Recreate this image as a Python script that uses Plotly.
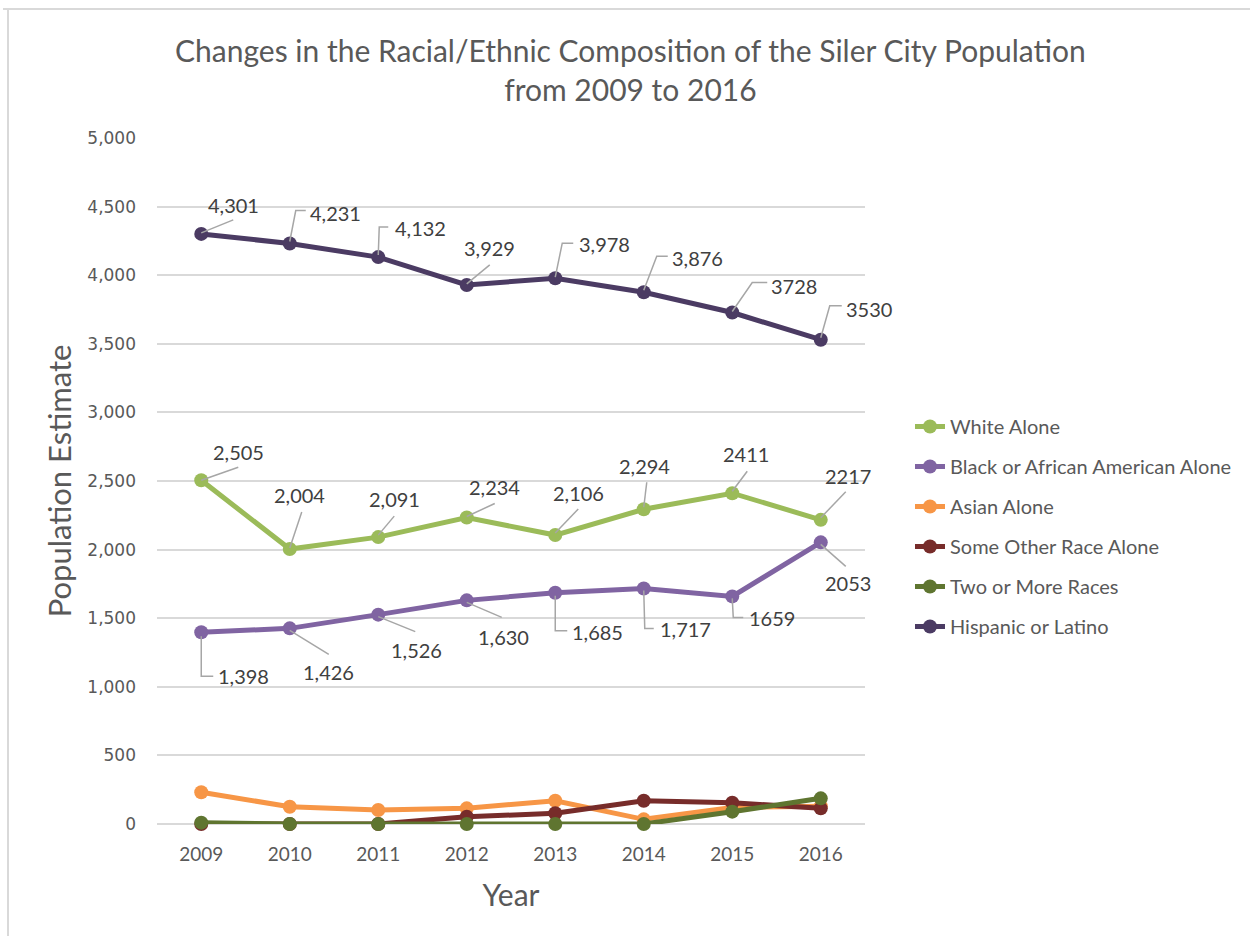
import plotly.graph_objects as go

# ---- data -------------------------------------------------------------
years = [2009, 2010, 2011, 2012, 2013, 2014, 2015, 2016]

white = [2505, 2004, 2091, 2234, 2106, 2294, 2411, 2217]
black = [1398, 1426, 1526, 1630, 1685, 1717, 1659, 2053]
asian = [231, 126, 102, 114, 170, 34, 120, 130]
other_race = [0, 0, 0, 53, 78, 170, 155, 114]
two_or_more = [10, 0, 0, 0, 0, 0, 90, 187]
hispanic = [4301, 4231, 4132, 3929, 3978, 3876, 3728, 3530]

series_names = [
    "White Alone",
    "Black or African American Alone",
    "Asian Alone",
    "Some Other Race Alone",
    "Two or More Races",
    "Hispanic or Latino",
]
series_values = [white, black, asian, other_race, two_or_more, hispanic]
series_colors = ["#9BBB59", "#8064A2", "#F79646", "#772C2A", "#5F7530", "#4B3B63"]

# years whose data labels carry a thousands separator
comma_years = [2009, 2010, 2011, 2012, 2013, 2014]

# label placement (screen px, +down) for the labelled series:
# text centre offset, then leader polyline points
label_layout = {
    "Hispanic or Latino": [
        ((32, -29), [(0, -1), (32, -14)]),
        ((46, -31), [(0, -2), (6, -33), (16, -33)]),
        ((42, -29), [(0, -2), (1, -30), (10, -30)]),
        ((23, -37), [(0, -1), (23, -20)]),
        ((49, -34), [(0, -1), (7, -35), (18, -35)]),
        ((54, -34), [(0, -2), (13, -36), (24, -36)]),
        ((62, -27), [(0, -1), (20, -30), (35, -30)]),
        ((48, -31), [(0, -2), (9, -34), (21, -34)]),
    ],
    "White Alone": [
        ((37, -28), [(0, 0), (37, -13)]),
        ((10, -54), [(0, -1), (12, -37)]),
        ((16, -38), [(0, -2), (16, -21)]),
        ((28, -31), [(0, -1), (28, -14)]),
        ((23, -42), [(0, -2), (23, -26)]),
        ((1, -43), [(0, -2), (3, -27)]),
        ((14, -39), [(0, -2), (15, -22)]),
        ((27, -44), [(0, -2), (25, -28)]),
    ],
    "Black or African American Alone": [
        ((42, 44), [(0, 4), (0, 44), (12, 44)]),
        ((39, 44), [(0, 2), (39, 26)]),
        ((38, 35), [(0, 2), (37, 17)]),
        ((37, 37), [(0, 2), (35, 17)]),
        ((42, 39), [(0, 3), (0, 38), (12, 38)]),
        ((42, 41), [(0, 2), (1, 40), (10, 40)]),
        ((40, 22), [(0, 2), (1, 21), (11, 21)]),
        ((27, 41), [(0, 2), (25, 24)]),
    ],
}

# ---- geometry ---------------------------------------------------------
W, H = 1250, 936
PL, PR, PT, PB = 157, 865, 138, 824  # plot area edges in px


def px_to_paper_x(px):
    return (px - PL) / (PR - PL)


def px_to_paper_y(py):
    return (PB - py) / (PB - PT)


FAMILY = "Lato, Open Sans, sans-serif"
LABEL_FONT = dict(family=FAMILY, size=20, color="#404040")

fig = go.Figure()

for name, vals, color in zip(series_names, series_values, series_colors):
    fig.add_trace(
        go.Scatter(
            x=years,
            y=vals,
            name=name,
            legendgroup=name,
            mode="lines+markers",
            line=dict(color=color, width=5),
            marker=dict(color=color, size=14),
            cliponaxis=False,
            hoverinfo="x+y+name",
        )
    )

annotations = []
shapes = []
for name, vals in zip(series_names, series_values):
    if name not in label_layout:
        continue
    for yr, v, (text_off, leader) in zip(years, vals, label_layout[name]):
        txt = f"{v:,}" if yr in comma_years else str(v)
        annotations.append(
            dict(
                x=yr, y=v, xref="x", yref="y",
                text=txt, showarrow=False,
                xshift=text_off[0], yshift=-text_off[1],
                font=LABEL_FONT,
            )
        )
        path = "M" + " L".join(f"{dx},{-dy}" for dx, dy in leader)
        shapes.append(
            dict(
                type="path", xref="x", yref="y",
                xsizemode="pixel", ysizemode="pixel",
                xanchor=yr, yanchor=v, path=path,
                line=dict(color="#A6A6A6", width=1.5),
                layer="above",
            )
        )

# frame lines along the top and left of the chart area
shapes.append(dict(type="line", xref="paper", yref="paper",
                   x0=px_to_paper_x(3), x1=px_to_paper_x(1252),
                   y0=px_to_paper_y(9), y1=px_to_paper_y(9),
                   line=dict(color="#D9D9D9", width=2)))
shapes.append(dict(type="line", xref="paper", yref="paper",
                   x0=px_to_paper_x(8), x1=px_to_paper_x(8),
                   y0=px_to_paper_y(9), y1=px_to_paper_y(940),
                   line=dict(color="#D9D9D9", width=2)))

# title
annotations.append(
    dict(
        x=px_to_paper_x(630), y=px_to_paper_y(70), xref="paper", yref="paper",
        text="Changes in the Racial/Ethnic Composition of the Siler City Population<br>from 2009 to 2016",
        showarrow=False, xanchor="center", yanchor="middle",
        font=dict(family=FAMILY, size=30, color="#595959"),
    )
)

fig.update_layout(
    width=W, height=H,
    margin=dict(l=PL, r=W - PR, t=PT, b=H - PB, pad=0),
    paper_bgcolor="white",
    plot_bgcolor="white",
    showlegend=True,
    legend=dict(
        x=px_to_paper_x(910), y=px_to_paper_y(407),
        xanchor="left", yanchor="top",
        font=dict(family=FAMILY, size=20, color="#595959"),
        tracegroupgap=11,
        traceorder="grouped",
        itemwidth=30,
        bgcolor="rgba(0,0,0,0)",
    ),
    annotations=annotations,
    shapes=shapes,
)

fig.update_xaxes(
    range=[2008.5, 2016.5],
    tickmode="array", tickvals=years, ticktext=[str(y) for y in years],
    showgrid=False, zeroline=False,
    showline=False,
    ticks="", ticklabelstandoff=17,
    tickfont=dict(family=FAMILY, size=19, color="#595959"),
    title=dict(text="Year", standoff=20,
               font=dict(family=FAMILY, size=30, color="#595959")),
)

fig.update_yaxes(
    range=[0, 5000],
    tickmode="linear", tick0=0, dtick=500,
    tickformat=",",
    showgrid=True, gridcolor="#D9D9D9", gridwidth=1.5,
    zeroline=True, zerolinecolor="#D9D9D9", zerolinewidth=1.5,
    showline=False, ticks="", ticklabelstandoff=20,
    tickfont=dict(family="DejaVu Sans, sans-serif", size=17, color="#595959"),
    title=dict(text="Population Estimate", standoff=6,
               font=dict(family=FAMILY, size=31, color="#595959")),
)

fig.write_html("out.html")
